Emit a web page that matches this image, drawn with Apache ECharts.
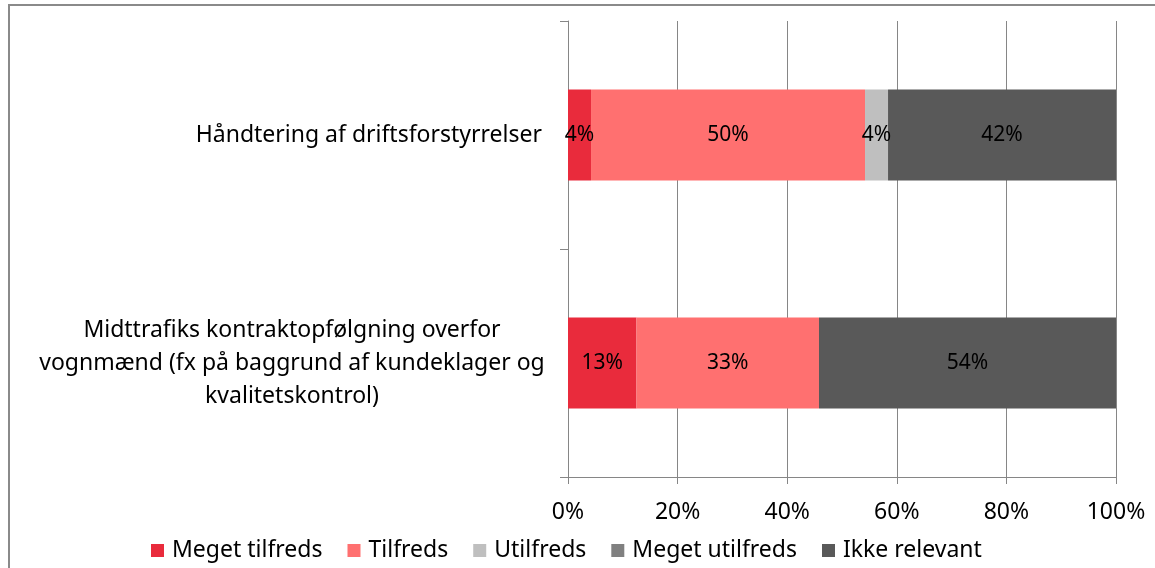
<!DOCTYPE html>
<html>
<head>
<meta charset="utf-8">
<script src="https://cdn.jsdelivr.net/npm/echarts@6/dist/echarts.min.js"></script>
<style>
  html, body { margin: 0; padding: 0; background: #fff; }
  #chart { width: 1155px; height: 568px; }
</style>
</head>
<body>
<div id="chart"></div>
<script>
// kategorier (oppefra og ned)
const categories = [
  'Håndtering af driftsforstyrrelser',
  'Midttrafiks kontraktopfølgning overfor\nvognmænd (fx på baggrund af kundeklager og\nkvalitetskontrol)'
]
const seriesNames = ['Meget tilfreds', 'Tilfreds', 'Utilfreds', 'Meget utilfreds', 'Ikke relevant']
// andele i procent pr. kategori
const megetTilfreds = [4.2, 12.5]
const tilfreds = [50.0, 33.3]
const utilfreds = [4.2, 0]
const megetUtilfreds = [0, 0]
const ikkeRelevant = [41.6, 54.2]
const xTicks = [0, 20, 40, 60, 80, 100]

const colors = ['#E92B3C', '#FF7070', '#BFBFBF', '#808080', '#595959']
const values = [megetTilfreds, tilfreds, utilfreds, megetUtilfreds, ikkeRelevant]
const font = 'Noto Sans'

const chart = echarts.init(document.getElementById('chart'), null, { renderer: 'canvas' })

const series = seriesNames.map((name, i) => ({
  name: name,
  type: 'bar',
  stack: 'total',
  barWidth: '40%',
  data: values[i],
  itemStyle: { color: colors[i] },
  label: {
    show: true,
    position: 'inside',
    color: '#000',
    fontFamily: font,
    fontSize: 21,
    formatter: p => (p.value > 0 ? Math.round(p.value) + '%' : '')
  }
}))

chart.setOption({
  animation: false,
  color: colors,
  graphic: [{
    type: 'rect',
    shape: { x: 9, y: 5, width: 1300, height: 700 },
    style: { fill: 'none', stroke: '#8a8a8a', lineWidth: 2 },
    silent: true
  }],
  grid: { left: 568, right: 39, top: 21, bottom: 91 },
  xAxis: {
    type: 'value',
    min: xTicks[0],
    max: xTicks[xTicks.length - 1],
    interval: 20,
    axisLine: { show: true, lineStyle: { color: '#868686', width: 1 } },
    axisTick: { show: true, length: 7, lineStyle: { color: '#868686' } },
    splitLine: { show: true, lineStyle: { color: '#868686', width: 1 } },
    axisLabel: {
      color: '#000',
      fontFamily: font,
      fontSize: 23,
      margin: 24,
      formatter: '{value}%'
    }
  },
  yAxis: {
    type: 'category',
    inverse: true,
    data: categories,
    axisLine: { show: true, lineStyle: { color: '#868686', width: 1 } },
    axisTick: { show: true, length: 8, lineStyle: { color: '#868686' } },
    axisLabel: {
      color: '#000',
      fontFamily: font,
      fontSize: 23,
      margin: 26,
      lineHeight: 33,
      // flere linjer centreres i en fast bredde
      formatter: v => v.indexOf('\n') < 0 ? v : v.split('\n').map(l => '{c|' + l + '}').join('\n'),
      rich: {
        c: { width: 500, align: 'center', fontFamily: font, fontSize: 23, lineHeight: 33, color: '#000' }
      }
    }
  },
  legend: {
    data: seriesNames,
    left: 146,
    top: 534,
    icon: 'rect',
    itemWidth: 13,
    itemHeight: 13,
    itemGap: 25,
    textStyle: { color: '#000', fontFamily: font, fontSize: 23, padding: [0, 0, 0, 3] }
  },
  series: series
})
</script>
</body>
</html>
